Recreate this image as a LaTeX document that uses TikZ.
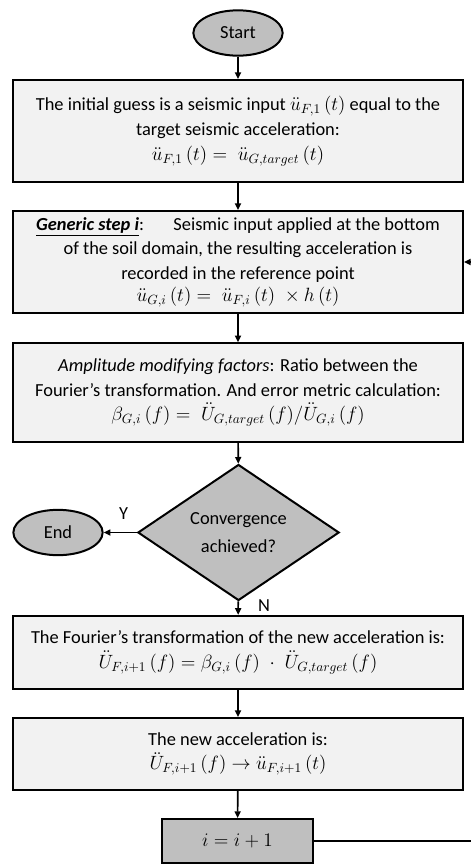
\documentclass[tikz,border=0pt]{standalone}
\usepackage{amsmath}
\usepackage{fontspec}
\setmainfont{Carlito}
\usetikzlibrary{arrows.meta, positioning, shapes.geometric}

\definecolor{boxgray}{HTML}{F2F2F2}
\definecolor{termgray}{HTML}{BFBFBF}

\begin{document}
\begin{tikzpicture}[x=0.75pt, y=-0.75pt,
		every node/.style={font=\fontsize{13.8}{18.5}\selectfont},
		box/.style={draw, line width=1.5pt, fill=boxgray, align=flush center, text width=330pt, minimum width=337.5pt, inner sep=2pt},
		term/.style={draw, line width=1.5pt, fill=termgray, ellipse, inner sep=0pt, minimum width=67pt, minimum height=34pt},
		decision/.style={draw, line width=1.5pt, fill=termgray, diamond, align=flush center, inner sep=0pt, minimum width=151pt, minimum height=89pt},
		flow/.style={-{Triangle[length=5pt, width=4.5pt]}, line width=1.2pt}]
		\clip (0,0) rectangle (471,864);
		
		\node[term] (start) at (238,33) {Start};
		\node[box, minimum height=76.5pt] (init) at (238,131) {The initial guess is a seismic input $\ddot{u}_{F,1}\,(t)$ equal to the\\ target seismic acceleration:\\ $\ddot{u}_{F,1}\,(t) = \;\ddot{u}_{G,target}\,(t)$};
		\node[box, minimum height=76.5pt] (generic) at (238,262) {\underline{\textbf{\textit{Generic step i}}}:\hspace{1.6em}Seismic input applied at the bottom\\ of the soil domain, the resulting acceleration is\\ recorded in the reference point\\[-2pt] $\ddot{u}_{G,i}\,(t) = \;\ddot{u}_{F,i}\,(t)\; \times h\,(t)$};
		\node[box, minimum height=74pt] (ratio) at (238,392.5) {\textit{Amplitude modifying factors}: Ratio between the\\ Fourier’s transformation. And error metric calculation:\\ $\beta_{G,i}\,(f) = \;\ddot{U}_{G,target}\,(f)/\ddot{U}_{G,i}\,(f)$};
		\node[decision] (conv) at (238.5,532.5) {Convergence\\[2pt] achieved?};
		\node[term] (end) at (58,532.5) {End};
		\node[box, minimum height=55pt] (fourier) at (238,652.5) {The Fourier’s transformation of the new acceleration is:\\ $\ddot{U}_{F,i+1}\,(f) = \beta_{G,i}\,(f)\;\cdot\;\ddot{U}_{G,target}\,(f)$};
		\node[box, minimum height=54pt] (newacc) at (238,754) {The new acceleration is:\\ $\ddot{U}_{F,i+1}\,(f) \rightarrow \ddot{u}_{F,i+1}\,(t)$};
		\node[box, fill=termgray, text width=105pt, minimum width=113pt, minimum height=33pt] (incr) at (237.5,841) {$i = i + 1$};
		\coordinate (back) at (490,841);
		
		\draw[flow] (start) -- (init);
		\draw[flow] (init) -- (generic);
		\draw[flow] (generic) -- (ratio);
		\draw[flow] (ratio) -- (conv);
		\draw[flow] (conv) -- node[above=6pt, pos=0.4] (yes) {Y} (end);
		\draw[flow] (conv) -- node[right=11pt, pos=0.35] (no) {N} (fourier);
		\draw[flow] (fourier) -- (newacc);
		\draw[flow] (newacc) -- (incr);
		\draw[flow] (incr) -- (back) |- (generic);
	\end{tikzpicture}
\end{document}
